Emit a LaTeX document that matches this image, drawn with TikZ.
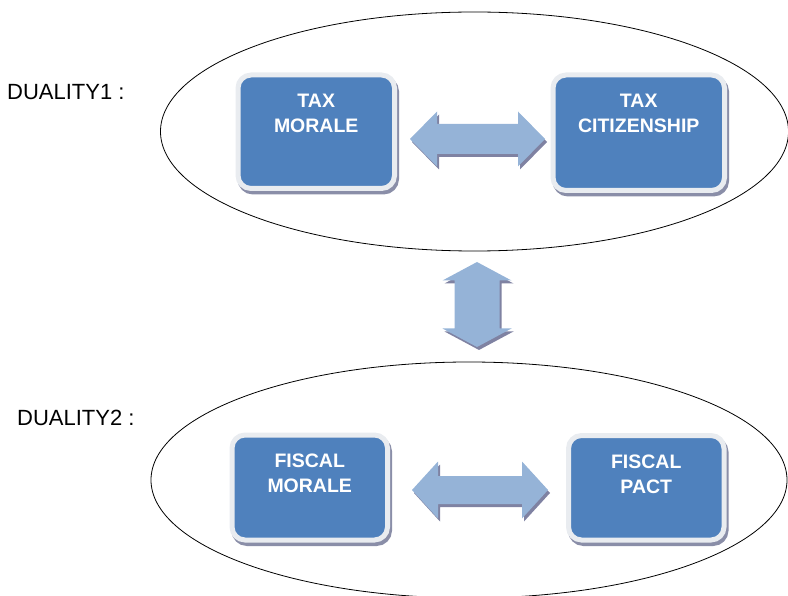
\documentclass[tikz,border=0pt]{standalone}
\usepackage{fontspec}
\setmainfont{Liberation Sans}
\usetikzlibrary{shapes.geometric,calc,backgrounds}
\definecolor{boxblue}{HTML}{4F81BD}
\definecolor{boxrim}{HTML}{E9ECF0}
\definecolor{boxshade}{HTML}{8A8EA8}
\definecolor{arrowfill}{HTML}{95B3D7}
\definecolor{arrowshade}{HTML}{7F82A2}
\newcommand\hdblpath[5]{(#1) -- ($(#1)+(#3,-#4)$) -- ($(#1)+(#3,-#5)$) -- ($(#2)+(-#3,-#5)$) -- ($(#2)+(-#3,-#4)$) -- (#2) -- ($(#2)+(-#3,#4)$) -- ($(#2)+(-#3,#5)$) -- ($(#1)+(#3,#5)$) -- ($(#1)+(#3,#4)$) -- cycle}
\newcommand\vdblpath[5]{(#1) -- ($(#1)+(#4,#3)$) -- ($(#1)+(#5,#3)$) -- ($(#2)+(#5,-#3)$) -- ($(#2)+(#4,-#3)$) -- (#2) -- ($(#2)+(-#4,-#3)$) -- ($(#2)+(-#5,-#3)$) -- ($(#1)+(-#5,#3)$) -- ($(#1)+(-#4,#3)$) -- cycle}
\begin{document}
\begin{tikzpicture}[x=1pt,y=-1pt,
  box/.style={rectangle, fill=boxblue, draw=boxrim, line width=5pt, rounded corners=13pt, outer sep=0pt, inner sep=0pt},
  boxtext/.style={anchor=north, inner sep=0pt, align=center, text=white, font=\fontsize{19.5}{25}\selectfont\bfseries},
  oval/.style={draw=black, ellipse, line width=0.8pt, inner sep=0pt, outer sep=0pt},
  duality/.style={anchor=west, inner sep=0pt, font=\fontsize{22}{26}\selectfont},
  arrowbody/.style={fill=arrowfill},
  arrowshadow/.style={fill=arrowshade, transform canvas={shift={(2pt,-3pt)}}},
  boxshadow/.style={fill=boxshade, draw=boxshade, line width=5pt, rounded corners=13pt, transform canvas={shift={(2pt,-3.5pt)}}}
]
\useasboundingbox (0,0) rectangle (788,596);

% ovals
\node[oval, minimum width=628pt, minimum height=239pt] (e1) at (474.5,131.5) {};
\node[oval, minimum width=636pt, minimum height=236pt] (e2) at (469,480) {};

% labels
\node[duality] (d1) at (7,92) {DUALITY1 :};
\node[duality] (d2) at (17,418) {DUALITY2 :};

% boxes
\node[box, minimum width=156.5pt, minimum height=113.5pt] (tm) at (316.25,131.75) {};
\node[box, minimum width=171.5pt, minimum height=115.5pt] (tc) at (638.75,132.75) {};
\node[box, minimum width=155.5pt, minimum height=105pt] (fm) at (309.75,487.5) {};
\node[box, minimum width=155.5pt, minimum height=104.5pt] (fp) at (646.25,487.75) {};

\begin{pgfonlayer}{background}
\foreach \b in {tm,tc,fm,fp}{
  \path[boxshadow] (\b.south west) rectangle (\b.north east);
}
\end{pgfonlayer}

\node[boxtext] (tmt) at ($(tm.north)+(0,18.5)$) {TAX\\MORALE};
\node[boxtext] (tct) at ($(tc.north)+(0,18.5)$) {TAX\\CITIZENSHIP};
\node[boxtext] (fmt) at ($(fm.north)+(0,18.5)$) {FISCAL\\MORALE};
\node[boxtext] (fpt) at ($(fp.north)+(0,19.5)$) {FISCAL\\PACT};

% block arrows
\coordinate (a1l) at (410,139);
\coordinate (a1r) at (545,139);
\coordinate (a2t) at (477,262);
\coordinate (a2b) at (477,347);
\coordinate (a3l) at (412,490);
\coordinate (a3r) at (548,490);

\fill[arrowshadow] \hdblpath{a1l}{a1r}{27}{27.5}{15};
\fill[arrowbody] \hdblpath{a1l}{a1r}{27}{27.5}{15};
\fill[arrowshadow] \vdblpath{a2t}{a2b}{18.5}{34.5}{22.5};
\fill[arrowbody] \vdblpath{a2t}{a2b}{18.5}{34.5}{22.5};
\fill[arrowshadow] \hdblpath{a3l}{a3r}{26}{28.5}{14};
\fill[arrowbody] \hdblpath{a3l}{a3r}{26}{28.5}{14};
\end{tikzpicture}
\end{document}
